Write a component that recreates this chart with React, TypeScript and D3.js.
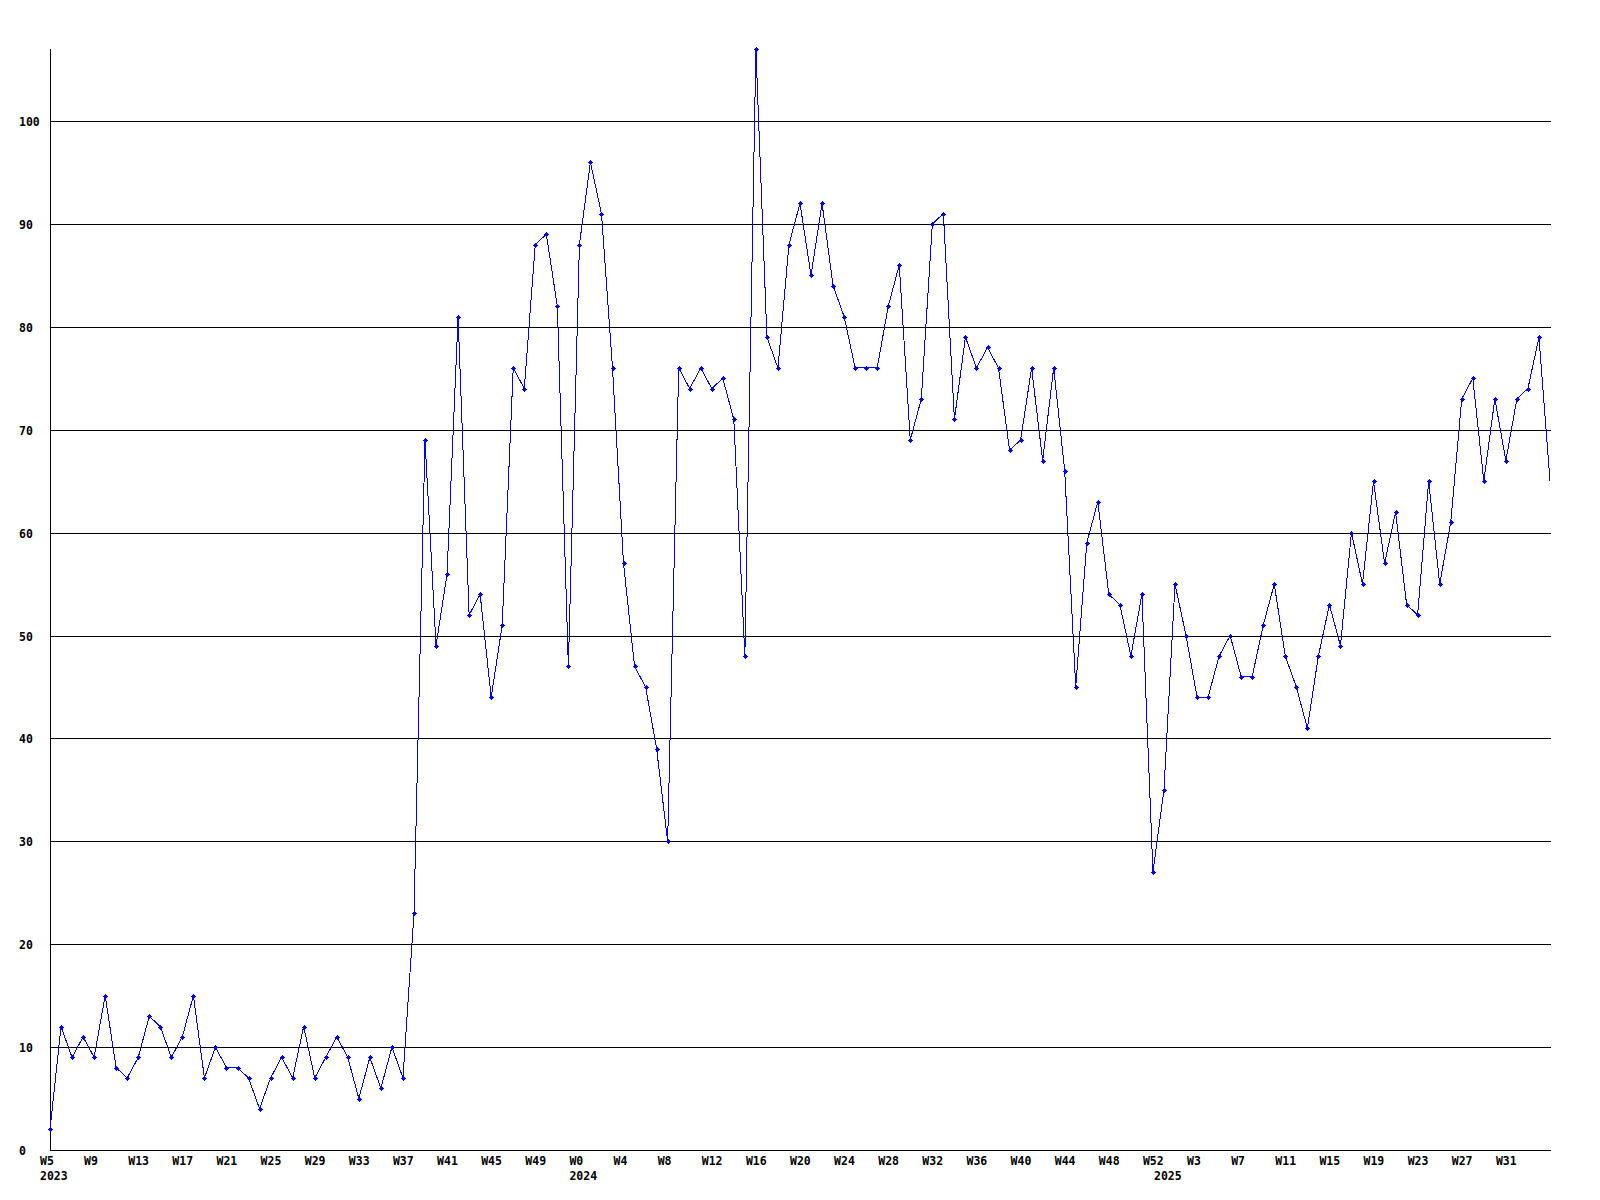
import * as d3 from "d3";
import { FC } from "react";

// weekly counts, one array per year
const YEARS = [2023, 2024, 2025];
const FIRST_WEEK = [5, 0, 0];
const VALUES_2023 = [
  2, 12, 9, 11, 9, 15, 8, 7, 9, 13, 12, 9, 11, 15, 7, 10, 8, 8, 7, 4, 7, 9, 7,
  12, 7, 9, 11, 9, 5, 9, 6, 10, 7, 23, 69, 49, 56, 81, 52, 54, 44, 51, 76, 74,
  88, 89, 82, 47,
];
const VALUES_2024 = [
  88, 96, 91, 76, 57, 47, 45, 39, 30, 76, 74, 76, 74, 75, 71, 48, 107, 79, 76,
  88, 92, 85, 92, 84, 81, 76, 76, 76, 82, 86, 69, 73, 90, 91, 71, 79, 76, 78,
  76, 68, 69, 76, 67, 76, 66, 45, 59, 63, 54, 53, 48, 54, 27,
];
const VALUES_2025 = [
  35, 55, 50, 44, 44, 48, 50, 46, 46, 51, 55, 48, 45, 41, 48, 53, 49, 60, 55,
  65, 57, 62, 53, 52, 65, 55, 61, 73, 75, 65, 73, 67, 73, 74, 79, 65,
];
const Y_TICKS = [0, 10, 20, 30, 40, 50, 60, 70, 80, 90, 100];
const LABEL_EVERY = 4;

type Pt = { key: string; year: number; week: number; value: number };

const DATA: Pt[] = [VALUES_2023, VALUES_2024, VALUES_2025].flatMap((vals, yi) =>
  vals.map((value, j) => {
    const week = FIRST_WEEK[yi] + j;
    return { key: `${YEARS[yi]}-W${week}`, year: YEARS[yi], week, value };
  })
);

const W = 1600;
const H = 1200;
const LEFT = 50;
const RIGHT = 1551;
const TOP = 49;
const BOTTOM = 1150;
const FONT = "'DejaVu Sans Mono', 'Liberation Mono', monospace";

const WeeklyChart: FC = () => {
  const x = d3
    .scalePoint<string>()
    .domain(DATA.map((d) => d.key))
    .range([LEFT, RIGHT - 1]);
  const y = d3
    .scaleLinear()
    .domain([0, d3.max(DATA, (d) => d.value) || 100])
    .range([BOTTOM, TOP]);

  const line = d3
    .line<Pt>()
    .x((d) => x(d.key) || 0)
    .y((d) => y(d.value));

  const py = (v: number) => Math.round(y(v)) + 0.5;
  const last = DATA.length - 1;

  return (
    <svg
      width={W}
      height={H}
      style={{ position: "absolute", left: 0, top: 0, background: "#fff" }}
    >
      {Y_TICKS.map((t) => (
        <g key={t}>
          {t > 0 && (
            <line
              x1={LEFT}
              x2={RIGHT}
              y1={py(t)}
              y2={py(t)}
              stroke="#000"
              strokeWidth={1}
              shapeRendering="crispEdges"
            />
          )}
          <text
            x={19}
            y={py(t)}
            dy="0.35em"
            fontFamily={FONT}
            fontSize={11.5}
            fontWeight="bold"
            fill="#000"
          >
            {t}
          </text>
        </g>
      ))}
      <line
        x1={LEFT + 0.5}
        x2={LEFT + 0.5}
        y1={TOP}
        y2={BOTTOM}
        stroke="#000"
        shapeRendering="crispEdges"
      />
      <line
        x1={LEFT}
        x2={RIGHT}
        y1={BOTTOM + 0.5}
        y2={BOTTOM + 0.5}
        stroke="#000"
        shapeRendering="crispEdges"
      />

      {/* week labels every 4th week; the last one does not fit */}
      {DATA.map((d, i) =>
        i % LABEL_EVERY === 0 && i !== last ? (
          <text
            key={"w" + d.key}
            x={(x(d.key) || 0) - 10}
            y={BOTTOM + 11}
            dy="0.35em"
            fontFamily={FONT}
            fontSize={11.5}
            fontWeight="bold"
          >
            {"W" + d.week}
          </text>
        ) : null
      )}
      {DATA.map((d, i) =>
        i === 0 || d.year !== DATA[i - 1].year ? (
          <text
            key={"y" + d.key}
            x={(x(d.key) || 0) - 10}
            y={BOTTOM + 26}
            dy="0.35em"
            fontFamily={FONT}
            fontSize={11.5}
            fontWeight="bold"
          >
            {d.year}
          </text>
        ) : null
      )}

      <path
        d={line(DATA) || ""}
        fill="none"
        stroke="#0000ff"
        strokeWidth={1}
        shapeRendering="crispEdges"
      />
      {DATA.slice(0, -1).map((d) => {
        const cx = Math.round(x(d.key) || 0);
        const cy = Math.round(y(d.value));
        return (
          <path
            key={"m" + d.key}
            d={`M${cx - 2},${cy}h5v1h-5zM${cx},${cy - 2}h1v5h-1zM${cx - 1},${cy - 1}h3v3h-3z`}
            fill="#0000ff"
            shapeRendering="crispEdges"
          />
        );
      })}
    </svg>
  );
};

export default function App() {
  return <WeeklyChart />;
}
